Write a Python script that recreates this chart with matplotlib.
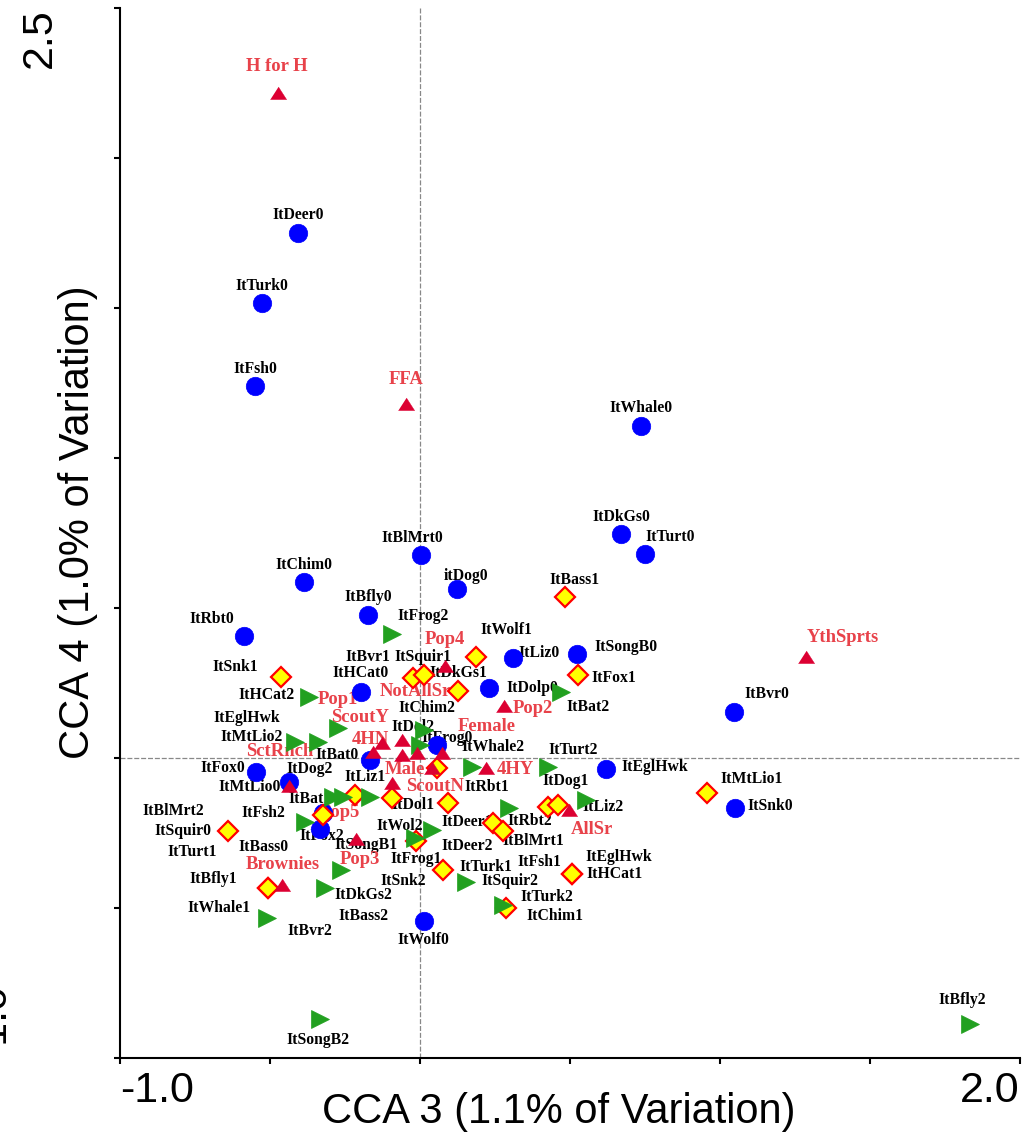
import matplotlib
matplotlib.use("Agg")
import matplotlib.pyplot as plt

# ---- item scores on CCA axes 3 and 4 ----
# level-0 items (blue circles)
lvl0_names = ["ItDeer0", "ItTurk0", "ItFsh0", "ItWhale0", "ItDkGs0", "ItTurt0",
              "ItBlMrt0", "itDog0", "ItChim0", "ItBfly0", "ItRbt0", "ItLiz0",
              "ItSongB0", "ItDolp0", "ItHCat0", "ItBvr0", "ItFrog0", "ItBat0",
              "ItFox0", "ItMtLio0", "ItSquir0", "ItBass0", "ItEglHwk", "ItSnk0",
              "ItWolf0"]
lvl0_x = [-0.407, -0.527, -0.550, 0.737, 0.670, 0.750,
          0.003, 0.123, -0.387, -0.173, -0.587, 0.310,
          0.523, 0.230, -0.197, 1.047, 0.057, -0.167,
          -0.547, -0.437, -0.323, -0.333, 0.620, 1.050,
          0.013]
lvl0_y = [1.750, 1.517, 1.240, 1.107, 0.747, 0.680,
          0.677, 0.563, 0.587, 0.477, 0.407, 0.333,
          0.347, 0.233, 0.220, 0.153, 0.043, -0.007,
          -0.047, -0.080, -0.183, -0.237, -0.037, -0.167,
          -0.543]

# level-1 items (yellow diamonds)
lvl1_names = ["ItBass1", "ItSnk1", "ItBvr1", "ItSquir1", "ItWolf1", "ItDkGs1",
              "ItFox1", "ItMtLio1", "ItLiz1", "ItBat1", "ItDol1", "ItSongB1",
              "ItRbt1", "ItDog1", "ItFsh1", "ItDeer1", "ItBlMrt1", "ItFrog1",
              "ItTurk1", "ItHCat1", "ItEglHwk", "ItChim1", "ItTurt1", "ItBfly1",
              "ItWhale1"]
lvl1_x = [0.483, -0.463, -0.023, 0.013, 0.187, 0.127,
          0.527, 0.957, -0.217, -0.323, 0.057, -0.093,
          0.093, 0.427, 0.460, 0.243, 0.277, -0.013,
          0.077, 0.507, 0.507, 0.287, -0.640, -0.507,
          -0.507]
lvl1_y = [0.537, 0.270, 0.267, 0.277, 0.337, 0.223,
          0.277, -0.117, -0.123, -0.190, -0.033, -0.133,
          -0.150, -0.163, -0.157, -0.217, -0.243, -0.277,
          -0.373, -0.387, -0.387, -0.500, -0.243, -0.433,
          -0.433]

# level-2 items (green triangles)
lvl2_names = ["ItFrog2", "ItHCat2", "ItBat2", "ItChim2", "ItDol2", "ItEglHwk",
              "ItMtLio2", "ItWhale2", "ItTurt2", "ItLiz2", "ItRbt2", "ItFsh2",
              "ItWol2", "ItDeer2", "ItSnk2", "ItDkGs2", "ItSquir2", "ItTurk2",
              "ItBvr2", "ItSongB2", "ItBfly2", "ItDog2", "ItFox2", "ItBlMrt2",
              "ItBass2"]
lvl2_x = [-0.093, -0.370, 0.470, 0.013, 0.000, -0.417,
          -0.340, 0.173, 0.427, 0.553, 0.297, -0.383,
          -0.017, 0.040, -0.263, -0.317, 0.153, 0.277,
          -0.510, -0.333, 1.833, -0.257, -0.167, -0.290,
          -0.273]
lvl2_y = [0.413, 0.203, 0.220, 0.093, 0.043, 0.053,
          0.053, -0.030, -0.030, -0.140, -0.167, -0.213,
          -0.267, -0.240, -0.373, -0.433, -0.413, -0.490,
          -0.533, -0.870, -0.887, -0.130, -0.130, -0.130,
          0.100]

# environmental variables (red triangles)
env_names = ["H for H", "FFA", "YthSprts", "Pop4", "Pop2", "4HY", "AllSr",
             "Pop3", "Brownies", "4HN", "Pop1", "ScoutY", "Male", "NotAllSr",
             "Female", "ScoutN", "Pop5", "SctRnch"]
env_x = [-0.473, -0.047, 1.287, 0.083, 0.280, 0.220, 0.497,
         -0.213, -0.460, -0.157, -0.060, -0.127, -0.060, -0.010,
         0.073, 0.040, -0.093, -0.437]
env_y = [2.217, 1.180, 0.337, 0.307, 0.173, -0.033, -0.173,
         -0.270, -0.423, 0.020, 0.060, 0.050, 0.010, 0.017,
         0.017, -0.033, -0.083, -0.093]

# ---- label placement (offsets from each point, in pixels) ----
lvl0_off = [(0, 18), (0, 17), (0, 17), (0, 18), (0, 17), (25, 17),
            (-9, 17), (9, 13), (0, 17), (0, 18), (-32, 17), (26, 5),
            (49, 7), (43, 0), (0, 19), (33, 18), (10, 7), (-33, 5),
            (-33, 4), (-39, -5), (-140, -18), (-57, -18), (49, 2), (35, 2),
            (-1, -19)]
lvl1_off = [(10, 17), (-46, 10), (-45, 21), (-1, 18), (30, 27), (0, 18),
            (36, -3), (45, 14), (10, 18), (-13, 16), (-24, -37), (-26, -47),
            (39, 16), (18, 26), (-19, -57), (-26, 1), (30, -10), (0, -18),
            (43, 3), (42, 0), (47, 17), (49, -8), (-36, -21), (-55, 9),
            (-49, -20)]
lvl2_off = [(31, 18), (-42, 2), (27, -15), (3, 22), (-7, 18), (-48, 24),
            (-66, 5), (21, 20), (25, 17), (17, -7), (21, -13), (-42, 9),
            (-15, 12), (35, -16), (62, -11), (38, -7), (44, 1), (44, 8),
            (43, -13), (-2, -21), (-8, 24), (-33, 28), (-48, -39), (-160, -14),
            (25, -188)]
env_off = [(-1, 26), (0, 25), (37, 19), (0, 26), (29, -2), (29, -2), (23, -20),
           (4, -21), (1, 20), (-3, 12), (-64, 41), (-22, 26), (3, -15), (-2, 61),
           (45, 26), (3, -19), (-52, -30), (-9, 34)]

BLUE = "#0000FF"
GREEN = "#22A020"
RED_MARK = "#DC0032"
RED_TEXT = "#E8424A"

fig = plt.figure(figsize=(10.23, 11.34), dpi=100)
ax = fig.add_axes([120 / 1023, 1 - 1058 / 1134, 900 / 1023, 1050 / 1134])
ax.set_xlim(-1.0, 2.0)
ax.set_ylim(-1.0, 2.5)

# reference lines through the origin
ax.axhline(0, color="#888888", lw=0.9, ls=(0, (4, 1.5)), zorder=1)
ax.axvline(0, color="#888888", lw=0.9, ls=(0, (4, 1.5)), zorder=1)

lab_font = dict(family="Liberation Serif", weight="bold", size=11.3, color="black")
env_font = dict(family="Liberation Serif", weight="bold", size=13.4, color=RED_TEXT)


def put_labels(names, xs, ys, offs, font):
    for n, x, y, (dx, dy) in zip(names, xs, ys, offs):
        ax.annotate(n, (x, y), xytext=(dx, dy), textcoords="offset pixels",
                    ha="center", va="center", zorder=2, annotation_clip=False,
                    **font)


put_labels(lvl0_names, lvl0_x, lvl0_y, lvl0_off, lab_font)
put_labels(lvl1_names, lvl1_x, lvl1_y, lvl1_off, lab_font)
put_labels(lvl2_names, lvl2_x, lvl2_y, lvl2_off, lab_font)
put_labels(env_names, env_x, env_y, env_off, env_font)

ax.plot(lvl0_x, lvl0_y, ls="none", marker="o", ms=13.3, mfc=BLUE, mec=BLUE,
        mew=0.5, zorder=3, clip_on=False)
ax.plot(lvl1_x, lvl1_y, ls="none", marker="D", ms=9.8, mfc="#FFFF00",
        mec="#FF0000", mew=1.6, zorder=4, clip_on=False)
ax.plot(lvl2_x, lvl2_y, ls="none", marker=">", ms=12.5, mfc=GREEN, mec=GREEN,
        mew=0.5, zorder=5, clip_on=False)
flat_tri = [(-1, -0.75), (1, -0.75), (0, 0.8)]
ax.plot(env_x, env_y, ls="none", marker=flat_tri, ms=11.7, mfc=RED_MARK,
        mec=RED_MARK, mew=0.3, zorder=6, clip_on=False)

# frame and ticks
for s in ("top", "right"):
    ax.spines[s].set_visible(False)
for s in ("left", "bottom"):
    ax.spines[s].set_linewidth(1.5)
ax.set_xticks([-1.0, -0.5, 0.0, 0.5, 1.0, 1.5, 2.0])
ax.set_yticks([-1.0, -0.5, 0.0, 0.5, 1.0, 1.5, 2.0, 2.5])
ax.set_xticklabels([])
ax.set_yticklabels([])
ax.tick_params(direction="out", length=4, width=1.5)

tick_font = dict(family="Liberation Sans", size=31)
ax.annotate("-1.0", (-1.0, 0), xycoords=("data", "axes fraction"),
            xytext=(0, -33), textcoords="offset pixels", ha="left",
            va="center", annotation_clip=False, **tick_font)
ax.annotate("2.0", (2.0, 0), xycoords=("data", "axes fraction"),
            xytext=(0, -33), textcoords="offset pixels", ha="right",
            va="center", annotation_clip=False, **tick_font)
ax.annotate("2.5", (0, 2.5), xycoords=("axes fraction", "data"),
            xytext=(-80, 0), textcoords="offset pixels", ha="center",
            va="top", rotation=90, annotation_clip=False, **tick_font)
ax.annotate("-1.0", (0, -1.0), xycoords=("axes fraction", "data"),
            xytext=(-126, 0), textcoords="offset pixels", ha="center",
            va="bottom", rotation=90, annotation_clip=False, **tick_font)

axis_font = dict(family="Liberation Sans", size=30)
fig.text(559 / 1023, 1 - 1112 / 1134, "CCA 3 (1.1% of Variation)",
         ha="center", va="center", **axis_font)
fig.text(78 / 1023, 1 - 522 / 1134, "CCA 4 (1.0% of Variation)",
         ha="center", va="center", rotation=90, **axis_font)

fig.savefig("out.png", dpi=100)
